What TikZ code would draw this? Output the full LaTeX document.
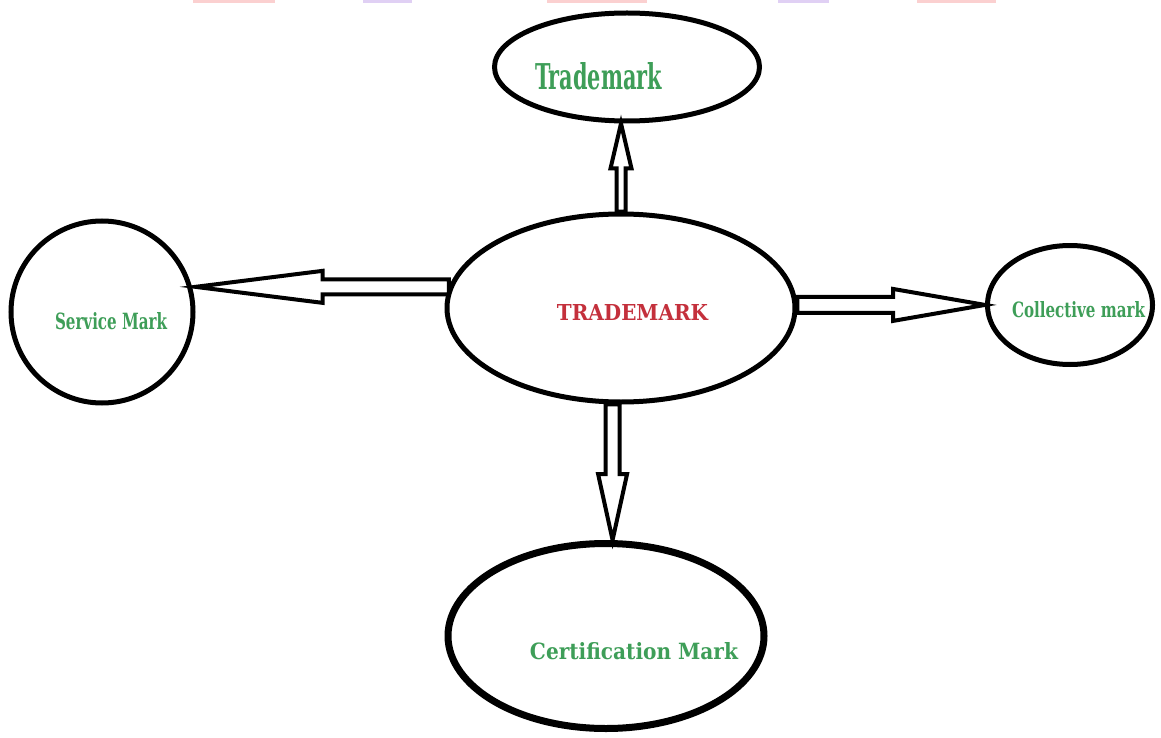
\documentclass[tikz,border=0pt]{standalone}
\usepackage{fontspec}
\setmainfont{DejaVu Serif}
\usetikzlibrary{shapes.geometric,calc}
\definecolor{tmgreen}{RGB}{62,158,88}
\definecolor{tmred}{RGB}{196,48,60}
\definecolor{wmpink}{RGB}{251,208,208}
\definecolor{wmpurple}{RGB}{224,208,244}
\tikzset{
  bubble/.style={draw=black, ellipse, line width=5pt, inner sep=0pt, fill=white},
  lab/.style={inner sep=0pt, font=\bfseries},
  hollow/.style={draw=black, line width=4pt, line join=miter, miter limit=20, fill=white},
}
\newcommand\harrow[5]{%
  \coordinate (hS) at (#1);
  \coordinate (hT) at (#2);
  \coordinate (hB) at ($(hT)!#5!(hS)$);
  \draw[hollow] ($(hS)!#3!90:(hT)$) -- ($(hB)!#3!-90:(hS)$) -- ($(hB)!#4!-90:(hS)$) -- (hT)
     -- ($(hB)!#4!90:(hS)$) -- ($(hB)!#3!90:(hS)$) -- ($(hS)!#3!-90:(hT)$) -- cycle;}
\begin{document}
\begin{tikzpicture}[x=1pt,y=-1pt]
\useasboundingbox (0,0) rectangle (1161,738);
\fill[white] (0,0) rectangle (1161,738);
% faint marks along the top edge
\fill[wmpink] (193,0) rectangle (275,3);
\fill[wmpurple] (363,0) rectangle (412,3);
\fill[wmpink] (547,0) rectangle (647,3);
\fill[wmpurple] (778,0) rectangle (829,3);
\fill[wmpink] (917,0) rectangle (996,3);
% shapes
\node[bubble, minimum width=265pt, minimum height=108pt] (top) at (627,67) {};
\node[bubble, minimum width=348pt, minimum height=188pt] (c) at (621,308) {};
\node[bubble, circle, minimum size=182pt] (svc) at (102,312) {};
\node[bubble, minimum width=165pt, minimum height=119pt] (col) at (1070,305) {};
\node[bubble, line width=7pt, minimum width=316pt, minimum height=185pt] (cert) at (606,636) {};
% labels
\node[lab, text=tmgreen] (ltop) at (598.5,76) {\resizebox{127pt}{27pt}{Trademark}};
\node[lab, text=tmred] (lc) at (632.5,312) {\resizebox{151pt}{16pt}{TRADEMARK}};
\node[lab, text=tmgreen] (lsvc) at (111,321.5) {\resizebox{112pt}{17pt}{Service Mark}};
\node[lab, text=tmgreen] (lcol) at (1078.5,310) {\resizebox{133pt}{16pt}{Collective mark}};
\node[lab, text=tmgreen] (lcert) at (634,651.5) {\resizebox{208pt}{17pt}{Certification Mark}};
% hollow arrows
\harrow{c.north}{top.south -| c.north}{4.5pt}{10.5pt}{45pt}
\harrow{c.173}{svc.east |- c.173}{7.5pt}{16pt}{127pt}
\harrow{c.1}{col.west |- c.1}{8pt}{16pt}{92pt}
\harrow{c.265}{cert.north -| c.265}{7pt}{14.5pt}{66pt}
\end{tikzpicture}
\end{document}
